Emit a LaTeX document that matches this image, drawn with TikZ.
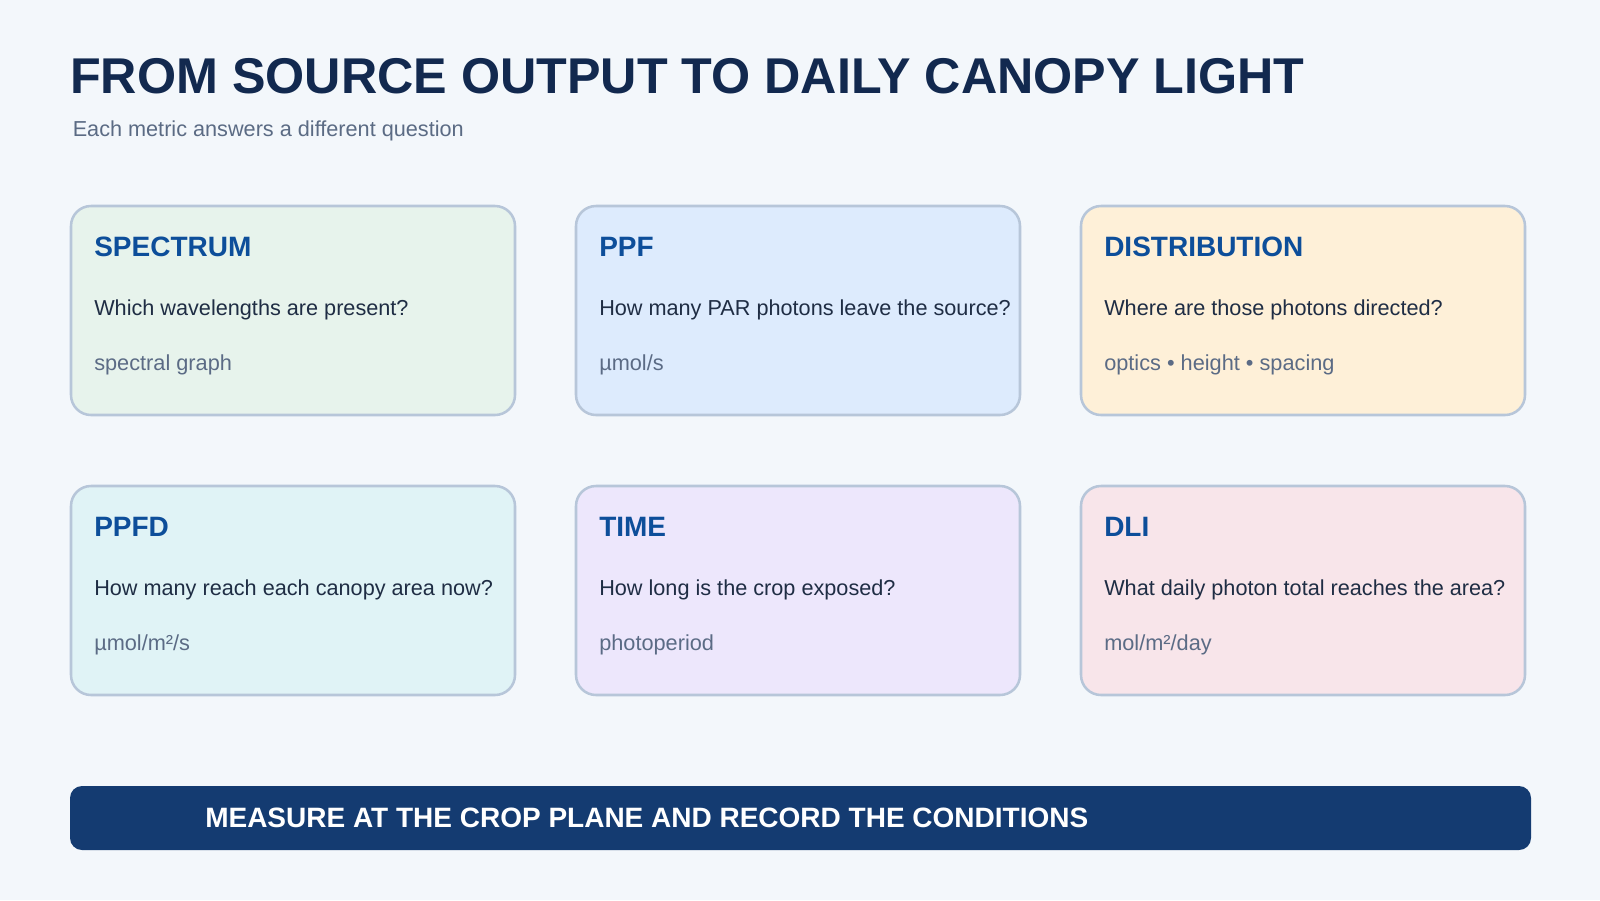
\documentclass[tikz,border=0pt]{standalone}
\usepackage{fontspec}
\setmainfont{Liberation Sans}
\usetikzlibrary{calc}
\definecolor{bgpage}{HTML}{F3F7FB}
\definecolor{navy}{HTML}{12294F}
\definecolor{subgrey}{HTML}{5B6B84}
\definecolor{titleblue}{HTML}{0D4E9A}
\definecolor{questtext}{HTML}{1F2D44}
\definecolor{unitgrey}{HTML}{5B6B85}
\definecolor{cardline}{HTML}{B7C6D9}
\definecolor{bannerblue}{HTML}{143B71}
\definecolor{specfill}{HTML}{E7F3EC}
\definecolor{ppffill}{HTML}{DDEBFD}
\definecolor{distfill}{HTML}{FEF0D8}
\definecolor{ppfdfill}{HTML}{E0F3F6}
\definecolor{timefill}{HTML}{EDE7FC}
\definecolor{dlifill}{HTML}{F8E5EA}

\begin{document}
\begin{tikzpicture}[x=0.75pt,y=-0.75pt]
\tikzstyle{card}=[draw=cardline, line width=1.9pt, rounded corners=15pt, minimum width=333pt, minimum height=156.75pt, inner sep=0pt, outer sep=0pt]
\tikzstyle{cardtitle}=[anchor=base west, inner sep=0pt, text=titleblue, font=\fontsize{21}{25}\selectfont\bfseries]
\tikzstyle{question}=[anchor=base west, inner sep=0pt, text=questtext, font=\fontsize{16.25}{20}\selectfont]
\tikzstyle{unit}=[anchor=base west, inner sep=0pt, text=unitgrey, font=\fontsize{16.3}{20}\selectfont]
\fill[bgpage] (0,0) rectangle (1600,900);
\useasboundingbox (0,0) rectangle (1600,900);
\node[anchor=base west, inner sep=0pt, text=navy, font=\fontsize{37.7}{44}\selectfont\bfseries] (title) at (70,93) {FROM SOURCE OUTPUT TO DAILY CANOPY LIGHT};
\node[anchor=base west, inner sep=0pt, text=subgrey, font=\fontsize{16.25}{19}\selectfont] (subtitle) at (72.5,136) {Each metric answers a different question};

\node[card, fill=specfill] (spec) at (293,310.5) {};
\node[card, fill=ppffill] (ppf) at (798,310.5) {};
\node[card, fill=distfill] (dist) at (1303,310.5) {};
\node[card, fill=ppfdfill] (ppfd) at (293,590.5) {};
\node[card, fill=timefill] (time) at (798,590.5) {};
\node[card, fill=dlifill] (dli) at (1303,590.5) {};

\node[cardtitle] (spec-t) at ($(spec.north west)+(23,50)$) {SPECTRUM};
\node[question] (spec-q) at ($(spec.north west)+(23,109)$) {Which wavelengths are present?};
\node[unit] (spec-u) at ($(spec.north west)+(23,164)$) {spectral graph};
\node[cardtitle] (ppf-t) at ($(ppf.north west)+(23,50)$) {PPF};
\node[question] (ppf-q) at ($(ppf.north west)+(23,109)$) {How many PAR photons leave the source?};
\node[unit] (ppf-u) at ($(ppf.north west)+(23,164)$) {µmol/s};
\node[cardtitle] (dist-t) at ($(dist.north west)+(23,50)$) {DISTRIBUTION};
\node[question] (dist-q) at ($(dist.north west)+(23,109)$) {Where are those photons directed?};
\node[unit] (dist-u) at ($(dist.north west)+(23,164)$) {optics • height • spacing};
\node[cardtitle] (ppfd-t) at ($(ppfd.north west)+(23,50)$) {PPFD};
\node[question] (ppfd-q) at ($(ppfd.north west)+(23,109)$) {How many reach each canopy area now?};
\node[unit] (ppfd-u) at ($(ppfd.north west)+(23,164)$) {µmol/m²/s};
\node[cardtitle] (time-t) at ($(time.north west)+(23,50)$) {TIME};
\node[question] (time-q) at ($(time.north west)+(23,109)$) {How long is the crop exposed?};
\node[unit] (time-u) at ($(time.north west)+(23,164)$) {photoperiod};
\node[cardtitle] (dli-t) at ($(dli.north west)+(23,50)$) {DLI};
\node[question] (dli-q) at ($(dli.north west)+(23,109)$) {What daily photon total reaches the area?};
\node[unit] (dli-u) at ($(dli.north west)+(23,164)$) {mol/m²/day};

\node[fill=bannerblue, rounded corners=9pt, minimum width=1095.75pt, minimum height=48pt, inner sep=0pt, outer sep=0pt] (note) at (800.5,818) {};
\node[anchor=base west, inner sep=0pt, text=white, font=\fontsize{21}{25}\selectfont\bfseries] (note-t) at ($(note.west)+(135,9.5)$) {MEASURE AT THE CROP PLANE AND RECORD THE CONDITIONS};
\end{tikzpicture}
\end{document}
